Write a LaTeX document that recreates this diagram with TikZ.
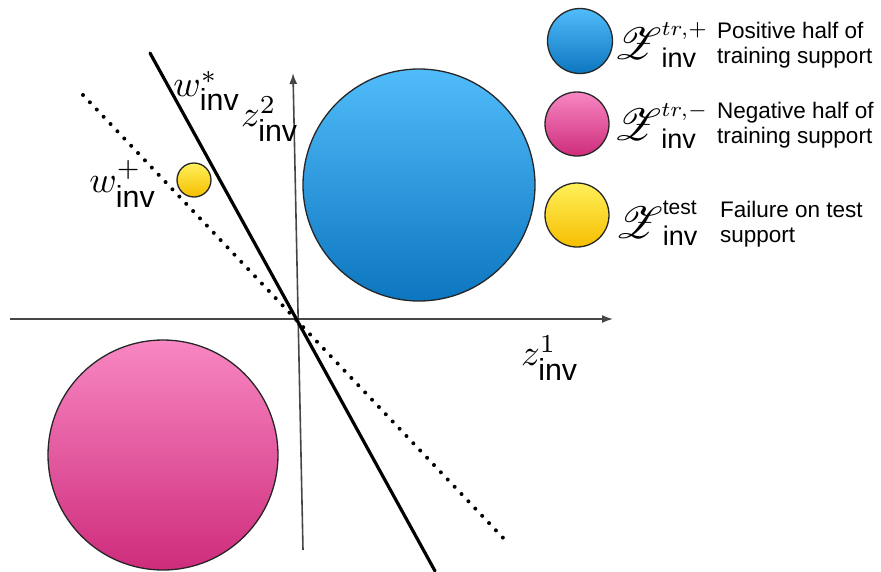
\documentclass[tikz,border=0pt]{standalone}
\usepackage{amsmath}
\usepackage{mathrsfs}
\usepackage{fontspec}
\setmainfont{Liberation Sans}
\usetikzlibrary{arrows.meta}
\definecolor{bluetop}{RGB}{80,188,250}
\definecolor{bluebot}{RGB}{12,118,192}
\definecolor{pinktop}{RGB}{248,135,195}
\definecolor{pinkbot}{RGB}{206,44,124}
\definecolor{yeltop}{RGB}{255,240,90}
\definecolor{yelbot}{RGB}{246,190,0}
\definecolor{axisgray}{RGB}{70,70,70}
\newcommand{\bigmath}[1]{\scalebox{3.7}{\fontsize{10}{12}\selectfont$#1$}}
\newcommand{\legm}[1]{\scalebox{3.0}{\fontsize{10}{12}\selectfont$#1$}}
\newcommand{\bigZ}{{\scalebox{1.5}{$\mathscr{Z}$}}}
\newcommand{\invw}{\text{\fontsize{8.2}{10}\selectfont inv}}
\newcommand{\invl}{\text{\fontsize{9}{10}\selectfont inv}}
\tikzset{
  blob/.style={circle, draw=black!85, line width=1.3pt, inner sep=0pt},
  bluefill/.style={blob, top color=bluetop, bottom color=bluebot},
  pinkfill/.style={blob, top color=pinktop, bottom color=pinkbot},
  yelfill/.style={blob, top color=yeltop, bottom color=yelbot},
  axisline/.style={draw=axisgray, line width=1.6pt, -{Latex[length=11pt,width=8pt]}},
  mathlbl/.style={inner sep=0pt},
  desc/.style={inner sep=0pt, anchor=west, align=left, font=\fontsize{22.5}{25.5}\selectfont},
}
\begin{document}
\begin{tikzpicture}[x=1pt,y=-1pt]
\useasboundingbox (0,0) rectangle (881,571);
% big circles
\node[bluefill, minimum size=232pt] (blue) at (419,185) {};
\node[pinkfill, minimum size=230pt] (pink) at (163,455) {};
\node[yelfill, minimum size=34pt] (yel) at (194,180) {};
% axes
\coordinate (xs) at (10,319);
\coordinate (xe) at (613,319);
\coordinate (ys) at (303,550);
\coordinate (ye) at (293,73);
\draw[axisline] (xs) -- (xe);
\draw[axisline] (ys) -- (ye);
% lines
\coordinate (ss) at (150,53);
\coordinate (se) at (435,571);
\coordinate (ds) at (83,95);
\coordinate (de) at (507,542);
\draw[line width=3.2pt, line cap=round] (ss) -- (se);
\draw[line width=4pt, line cap=round, dash pattern=on 0pt off 10pt] (ds) -- (de);
% axis labels
\node[mathlbl] (wstar) at (207,91) {\bigmath{w^{*}_{\invw}}};
\node[mathlbl] (wplus) at (123,184) {\bigmath{w^{+}_{\invw}}};
\node[mathlbl] (z2) at (270,119) {\bigmath{z^{2}_{\invw}}};
\node[mathlbl] (z1) at (550,358) {\bigmath{z^{1}_{\invw}}};
% legend
\node[bluefill, minimum size=65pt] (lblue) at (580,41) {};
\node[pinkfill, minimum size=64pt] (lpink) at (577,124) {};
\node[yelfill, minimum size=64pt] (lyel) at (577,215) {};
\node[mathlbl] (lz1) at (661,45) {\legm{\bigZ^{tr,+}_{\invl}}};
\node[mathlbl] (lz2) at (661,126) {\legm{\bigZ^{tr,-}_{\invl}}};
\node[mathlbl] (lz3) at (657,223) {\legm{\bigZ^{\text{test}}_{\invl}}};
\node[desc] (d1) at (717,45) {Positive half of\\training support};
\node[desc] (d2) at (717,125) {Negative half of\\training support};
\node[desc] (d3) at (720,224) {Failure on test\\support};
\end{tikzpicture}
\end{document}
